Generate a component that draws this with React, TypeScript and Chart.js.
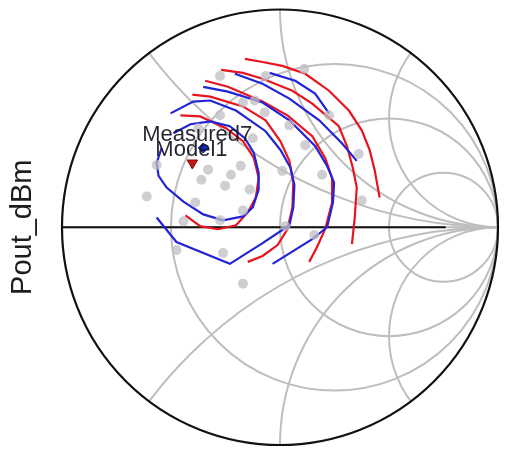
import React, { useEffect, useRef } from 'react';
import { Chart, registerables } from 'chart.js';

Chart.register(...registerables);

type P = [number, number];

// Smith chart grid values
const R_CIRCLES = [1 / 3, 1, 3];
const X_ARCS = [0.5, 1, 2, -0.5, -1, -2];
const AXIS_TITLE = 'Pout_dBm';

// Measured contours (blue), reflection coefficient [re, im]
const MEASURED_1: P[] = [
  [-0.543, 0.364], [-0.566, 0.295], [-0.557, 0.236], [-0.52, 0.182], [-0.443, 0.118], [-0.352, 0.059],
  [-0.261, 0.032], [-0.17, 0.05], [-0.125, 0.091], [-0.098, 0.173], [-0.098, 0.25], [-0.12, 0.341],
  [-0.161, 0.409], [-0.23, 0.464], [-0.32, 0.486], [-0.411, 0.473], [-0.489, 0.432],
];
const MEASURED_2: P[] = [
  [-0.502, 0.523], [-0.398, 0.577], [-0.32, 0.582], [-0.202, 0.536], [-0.066, 0.441], [0.002, 0.355],
  [0.048, 0.273], [0.066, 0.195], [0.061, 0.091], [0.043, 0.009], [-0.08, -0.073], [-0.23, -0.168],
  [-0.475, -0.068], [-0.566, 0.045],
];
const MEASURED_3: P[] = [
  [-0.352, 0.645], [-0.239, 0.623], [-0.08, 0.573], [0.043, 0.491], [0.161, 0.373], [0.216, 0.282],
  [0.248, 0.205], [0.243, 0.114], [0.216, 0.0], [0.148, -0.055], [-0.034, -0.168],
];
const MEASURED_4: P[] = [
  [-0.207, 0.705], [-0.08, 0.659], [0.043, 0.591], [0.18, 0.491], [0.284, 0.386], [0.352, 0.305],
];
const MEASURED_5: P[] = [
  [-0.048, 0.709], [0.07, 0.673], [0.161, 0.614], [0.225, 0.523],
];

// Model contours (red)
const MODEL_1: P[] = [
  [-0.457, 0.514], [-0.366, 0.509], [-0.248, 0.455], [-0.17, 0.395], [-0.12, 0.318], [-0.098, 0.227],
  [-0.111, 0.136], [-0.148, 0.068], [-0.202, 0.009], [-0.284, -0.009], [-0.366, 0.005], [-0.434, 0.055],
];
const MODEL_2: P[] = [
  [-0.402, 0.609], [-0.32, 0.6], [-0.17, 0.555], [-0.066, 0.491], [0.002, 0.395], [0.043, 0.305],
  [0.061, 0.205], [0.057, 0.091], [0.034, -0.009], [-0.011, -0.082], [-0.08, -0.132], [-0.148, -0.159],
];
const MODEL_3: P[] = [
  [-0.343, 0.673], [-0.239, 0.645], [-0.08, 0.577], [0.034, 0.514], [0.148, 0.418], [0.207, 0.318],
  [0.239, 0.227], [0.239, 0.114], [0.207, -0.009], [0.17, -0.091], [0.134, -0.159],
];
const MODEL_4: P[] = [
  [-0.27, 0.723], [-0.17, 0.709], [-0.08, 0.682], [0.057, 0.627], [0.148, 0.568], [0.27, 0.464],
  [0.307, 0.373], [0.334, 0.273], [0.352, 0.182], [0.343, 0.045], [0.33, -0.077],
];
const MODEL_5: P[] = [
  [-0.161, 0.773], [-0.08, 0.759], [0.011, 0.741], [0.116, 0.705], [0.225, 0.627], [0.316, 0.536],
  [0.375, 0.445], [0.411, 0.355], [0.434, 0.264], [0.457, 0.136],
];

// Load points (gray)
const LOAD_POINTS: P[] = [
  [0.111, 0.727], [-0.066, 0.695], [-0.275, 0.695], [-0.17, 0.573], [-0.116, 0.582], [-0.07, 0.527],
  [-0.275, 0.514], [0.043, 0.468], [0.116, 0.377], [0.225, 0.514], [0.361, 0.336], [-0.33, 0.264],
  [-0.225, 0.241], [-0.18, 0.282], [-0.361, 0.218], [-0.252, 0.191], [-0.139, 0.173], [0.011, 0.259],
  [0.193, 0.241], [-0.611, 0.141], [-0.566, 0.286], [-0.389, 0.114], [-0.17, 0.077], [0.375, 0.123],
  [-0.443, 0.027], [-0.275, 0.032], [0.025, 0.005], [0.157, -0.036], [-0.475, -0.105], [-0.261, -0.118],
  [-0.17, -0.259], [-0.125, 0.409], [-0.375, 0.455],
];

// Markers
const MARKER_MEASURED: P = [-0.352, 0.364];
const MARKER_MODEL: P = [-0.402, 0.295];
const MARKER_MEASURED_LABEL = 'Measured7';
const MARKER_MODEL_LABEL = 'Model1';

const BLUE = 'rgb(35,35,215)';
const RED = 'rgb(232,20,30)';
const GRID = 'rgb(190,190,190)';
const FONT = "'Liberation Sans', Arial, sans-serif";

const toXY = (pts: P[]) => pts.map(([x, y]) => ({ x, y }));

const smithGrid = {
  id: 'smithGrid',
  beforeDatasetsDraw(chart: any) {
    const { ctx } = chart;
    const xs = chart.scales.x;
    const ys = chart.scales.y;
    const px = (u: number) => xs.getPixelForValue(u);
    const py = (v: number) => ys.getPixelForValue(v);
    const sx = px(1) - px(0);
    const sy = py(0) - py(1);
    ctx.save();
    ctx.beginPath();
    ctx.ellipse(px(0), py(0), sx, sy, 0, 0, Math.PI * 2);
    ctx.clip();
    ctx.strokeStyle = GRID;
    ctx.lineWidth = 2;
    ctx.beginPath();
    ctx.moveTo(px(-1), py(0));
    ctx.lineTo(px(1), py(0));
    ctx.stroke();
    for (const r of R_CIRCLES) {
      const c = r / (1 + r);
      const rad = 1 / (1 + r);
      ctx.beginPath();
      ctx.ellipse(px(c), py(0), rad * sx, rad * sy, 0, 0, Math.PI * 2);
      ctx.stroke();
    }
    for (const xv of X_ARCS) {
      const rad = 1 / Math.abs(xv);
      ctx.beginPath();
      ctx.ellipse(px(1), py(1 / xv), rad * sx, rad * sy, 0, 0, Math.PI * 2);
      ctx.stroke();
    }
    ctx.restore();
    ctx.save();
    ctx.strokeStyle = '#111';
    ctx.lineWidth = 2.2;
    ctx.beginPath();
    ctx.moveTo(px(-1), py(0));
    ctx.lineTo(px(0.76), py(0));
    ctx.stroke();
    ctx.beginPath();
    ctx.ellipse(px(0), py(0), sx, sy, 0, 0, Math.PI * 2);
    ctx.stroke();
    ctx.restore();
  },
};

const markerLabels = {
  id: 'markerLabels',
  afterDatasetsDraw(chart: any) {
    const { ctx } = chart;
    const xs = chart.scales.x;
    const ys = chart.scales.y;
    ctx.save();
    ctx.font = `22px ${FONT}`;
    ctx.fillStyle = 'rgba(20,20,30,0.92)';
    ctx.textBaseline = 'alphabetic';
    ctx.textAlign = 'left';
    const mx = xs.getPixelForValue(MARKER_MEASURED[0]);
    const my = ys.getPixelForValue(MARKER_MEASURED[1]);
    ctx.fillText(MARKER_MEASURED_LABEL, mx - 61, my - 7);
    const rx = xs.getPixelForValue(MARKER_MODEL[0]);
    const ry = ys.getPixelForValue(MARKER_MODEL[1]);
    ctx.fillText(MARKER_MODEL_LABEL, rx - 37, ry - 7);
    ctx.restore();
  },
};

const lineDs = (data: P[], color: string) => ({
  data: toXY(data),
  showLine: true,
  borderColor: color,
  borderWidth: 2.2,
  pointRadius: 0,
  tension: 0,
  fill: false,
  order: 2,
});

export default function App() {
  const ref = useRef<HTMLCanvasElement | null>(null);
  useEffect(() => {
    if (!ref.current) return;
    const chart = new Chart(ref.current, {
      type: 'scatter',
      data: {
        datasets: [
          {
            data: [{ x: MARKER_MEASURED[0], y: MARKER_MEASURED[1] }],
            pointStyle: 'rectRot',
            pointRadius: 5,
            backgroundColor: 'rgb(20,40,200)',
            borderColor: 'rgb(10,20,120)',
            borderWidth: 1,
            order: 0,
          },
          {
            data: [{ x: MARKER_MODEL[0], y: MARKER_MODEL[1] }],
            pointStyle: 'triangle',
            rotation: 180,
            pointRadius: 6,
            backgroundColor: 'rgb(200,20,20)',
            borderColor: 'rgb(120,10,10)',
            borderWidth: 1,
            order: 0,
          },
          {
            data: toXY(LOAD_POINTS),
            pointRadius: 5,
            backgroundColor: 'rgba(190,190,196,0.75)',
            borderWidth: 0,
            order: 1,
          },
          lineDs(MEASURED_1, BLUE),
          lineDs(MEASURED_2, BLUE),
          lineDs(MEASURED_3, BLUE),
          lineDs(MEASURED_4, BLUE),
          lineDs(MEASURED_5, BLUE),
          lineDs(MODEL_1, RED),
          lineDs(MODEL_2, RED),
          lineDs(MODEL_3, RED),
          lineDs(MODEL_4, RED),
          lineDs(MODEL_5, RED),
        ] as any,
      },
      options: {
        animation: false,
        responsive: false,
        layout: { padding: { left: 0, right: 2, top: 9.5, bottom: 2 } },
        plugins: { legend: { display: false }, tooltip: { enabled: false } },
        scales: {
          x: { type: 'linear', min: -1, max: 1, display: false },
          y: {
            type: 'linear',
            min: -1,
            max: 1,
            display: true,
            ticks: { display: false },
            grid: { display: false },
            border: { display: false },
            title: {
              display: true,
              text: AXIS_TITLE,
              font: { family: FONT, size: 29 },
              color: '#1e1e1e',
              padding: { top: 6, bottom: 0 },
            },
            afterFit: (s: any) => {
              s.width = 62;
            },
          },
        },
      } as any,
      plugins: [smithGrid, markerLabels],
    });
    return () => chart.destroy();
  }, []);
  return (
    <div style={{ position: 'absolute', left: 0, top: 0, width: 505, height: 452 }}>
      <canvas ref={ref} width={505} height={452} />
    </div>
  );
}
